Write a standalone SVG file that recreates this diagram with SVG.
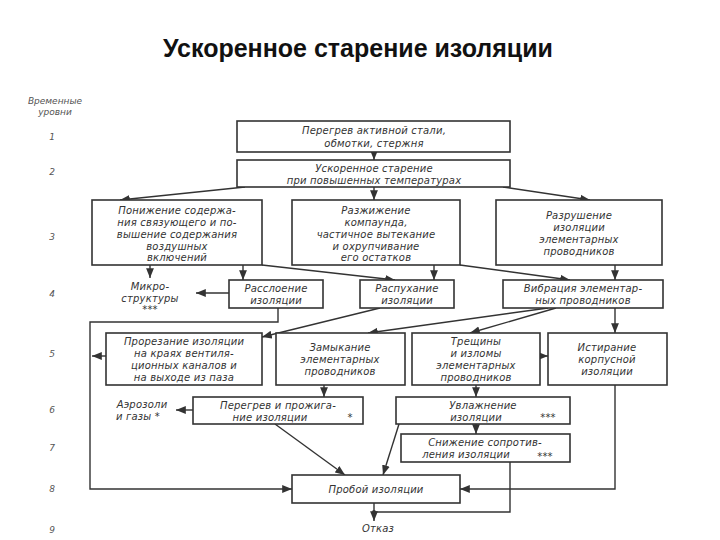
<svg xmlns="http://www.w3.org/2000/svg" width="720" height="540" viewBox="0 0 720 540">
<style>
.b{fill:#fff;stroke:#333;stroke-width:1.6}
.t{font-family:"DejaVu Sans",sans-serif;font-style:italic;font-size:10px;fill:#333;text-anchor:middle;letter-spacing:0.2px}
.l{font-family:"DejaVu Sans",sans-serif;font-style:italic;font-size:9px;fill:#555;text-anchor:middle}
.c{fill:none;stroke:#333;stroke-width:1.4;marker-end:url(#a)}
.n{fill:none;stroke:#333;stroke-width:1.4}
.h{font-family:"Liberation Sans",Arial,sans-serif;font-size:25px;font-weight:bold;fill:#111;text-anchor:middle}
</style>
<defs><marker id="a" viewBox="0 0 10 10" refX="10" refY="5" markerWidth="7" markerHeight="7" orient="auto"><path d="M0,1 L10,5 L0,9 z" fill="#333"/></marker></defs>
<rect width="720" height="540" fill="#fff"/>
<text class="h" x="358" y="57">Ускоренное старение изоляции</text>
<g id="levels">
<text class="l" x="55" y="104">Временные</text><text class="l" x="55" y="115">уровни</text>
<text class="l" x="52" y="140">1</text><text class="l" x="52" y="175">2</text><text class="l" x="52" y="240">3</text>
<text class="l" x="52" y="297">4</text><text class="l" x="52" y="357">5</text><text class="l" x="52" y="413">6</text>
<text class="l" x="52" y="451">7</text><text class="l" x="52" y="492">8</text><text class="l" x="52" y="533">9</text>
</g>
<g id="connectors">
<path class="c" d="M374,152 V160"/>
<path class="c" d="M374,187 V200"/>
<path class="c" d="M245,187 L120,200"/>
<path class="c" d="M503,187 L590,200"/>
<path class="c" d="M150,265 V278"/>
<path class="c" d="M243,265 V280"/>
<path class="c" d="M262,265 L395,280"/>
<path class="c" d="M434,265 V280"/>
<path class="c" d="M460,265 L570,280"/>
<path class="c" d="M615,265 V280"/>
<path class="c" d="M229,293 H196"/>
<path class="c" d="M278,308 V322 H90 V489 H292"/>
<path class="c" d="M380,308 L262,337"/>
<path class="c" d="M548,308 L368,333"/>
<path class="c" d="M556,308 L470,333"/>
<path class="c" d="M615,308 V333"/>
<path class="c" d="M106,356 H92"/>
<path class="c" d="M540,356 H548"/>
<path class="c" d="M324,385 V397"/>
<path class="c" d="M476,385 V397"/>
<path class="c" d="M615,385 V489 H460"/>
<path class="c" d="M193,410 H176"/>
<path class="c" d="M275,424 L345,475"/>
<path class="c" d="M399,424 L383,475"/>
<path class="c" d="M476,424 V434"/>
<path class="n" d="M510,462 V512 H374"/>
<path class="c" d="M374,503 V521"/>
<circle cx="374" cy="512" r="2" fill="#333"/>
</g>
<g id="n1"><rect class="b" x="237" y="121" width="273" height="31"/><text class="t" x="374" y="134">Перегрев активной стали,</text><text class="t" x="374" y="147">обмотки, стержня</text></g>
<g id="n2"><rect class="b" x="237" y="160" width="273" height="27"/><text class="t" x="374" y="172">Ускоренное старение</text><text class="t" x="374" y="184">при повышенных температурах</text></g>
<g id="n3a"><rect class="b" x="92" y="200" width="170" height="65"/><text class="t" x="177" y="214">Понижение содержа-</text><text class="t" x="177" y="226">ния связующего и по-</text><text class="t" x="177" y="238">вышение содержания</text><text class="t" x="177" y="250">воздушных</text><text class="t" x="177" y="261">включений</text></g>
<g id="n3b"><rect class="b" x="292" y="200" width="168" height="65"/><text class="t" x="376" y="214">Разжижение</text><text class="t" x="376" y="226">компаунда,</text><text class="t" x="376" y="238">частичное вытекание</text><text class="t" x="376" y="250">и охрупчивание</text><text class="t" x="376" y="261">его остатков</text></g>
<g id="n3c"><rect class="b" x="496" y="200" width="166" height="65"/><text class="t" x="579" y="219">Разрушение</text><text class="t" x="579" y="231">изоляции</text><text class="t" x="579" y="243">элементарных</text><text class="t" x="579" y="255">проводников</text></g>
<g id="n4a"><text class="t" x="150" y="290">Микро-</text><text class="t" x="150" y="302">структуры</text><text class="t" x="150" y="313">***</text></g>
<g id="n4b"><rect class="b" x="229" y="280" width="94" height="28"/><text class="t" x="276" y="292">Расслоение</text><text class="t" x="276" y="304">изоляции</text></g>
<g id="n4c"><rect class="b" x="360" y="280" width="94" height="28"/><text class="t" x="407" y="292">Распухание</text><text class="t" x="407" y="304">изоляции</text></g>
<g id="n4d"><rect class="b" x="503" y="280" width="160" height="28"/><text class="t" x="583" y="292">Вибрация элементар-</text><text class="t" x="583" y="304">ных проводников</text></g>
<g id="n5a"><rect class="b" x="106" y="333" width="156" height="52"/><text class="t" x="184" y="345">Прорезание изоляции</text><text class="t" x="184" y="357">на краях вентиля-</text><text class="t" x="184" y="369">ционных каналов и</text><text class="t" x="184" y="381">на выходе из паза</text></g>
<g id="n5b"><rect class="b" x="276" y="333" width="129" height="52"/><text class="t" x="340" y="351">Замыкание</text><text class="t" x="340" y="363">элементарных</text><text class="t" x="340" y="375">проводников</text></g>
<g id="n5c"><rect class="b" x="412" y="333" width="128" height="52"/><text class="t" x="476" y="345">Трещины</text><text class="t" x="476" y="357">и изломы</text><text class="t" x="476" y="369">элементарных</text><text class="t" x="476" y="381">проводников</text></g>
<g id="n5d"><rect class="b" x="548" y="333" width="119" height="52"/><text class="t" x="607" y="351">Истирание</text><text class="t" x="607" y="363">корпусной</text><text class="t" x="607" y="375">изоляции</text></g>
<g id="n6a"><text class="t" x="142" y="408">Аэрозоли</text><text class="t" x="138" y="420">и газы *</text></g>
<g id="n6b"><rect class="b" x="193" y="397" width="170" height="27"/><text class="t" x="278" y="409">Перегрев и прожига-</text><text class="t" x="270" y="421">ние изоляции</text><text class="t" x="350" y="421">*</text></g>
<g id="n6c"><rect class="b" x="396" y="397" width="174" height="27"/><text class="t" x="483" y="409">Увлажнение</text><text class="t" x="476" y="421">изоляции</text><text class="t" x="548" y="421">***</text></g>
<g id="n7"><rect class="b" x="401" y="434" width="169" height="28"/><text class="t" x="485" y="446">Снижение сопротив-</text><text class="t" x="466" y="458">ления изоляции</text><text class="t" x="545" y="460">***</text></g>
<g id="n8"><rect class="b" x="292" y="475" width="168" height="28"/><text class="t" x="376" y="493">Пробой изоляции</text></g>
<g id="n9"><text class="t" x="378" y="532">Отказ</text></g>
</svg>
